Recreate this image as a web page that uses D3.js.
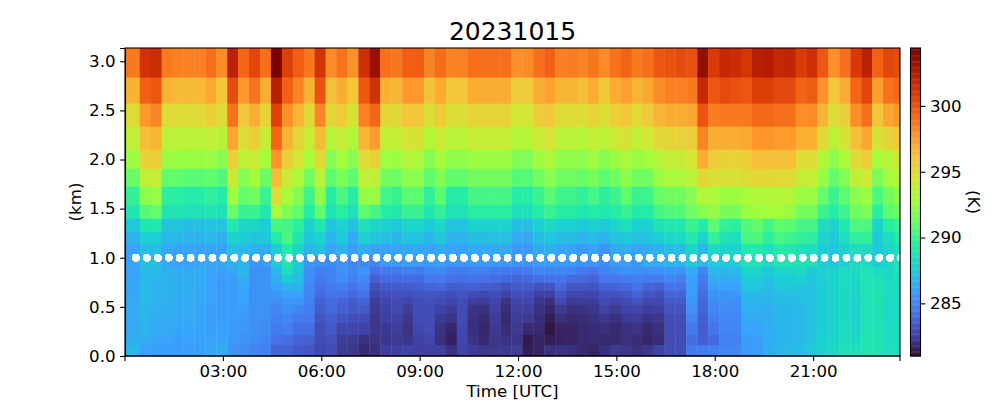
<!DOCTYPE html>
<html>
<head>
<meta charset="utf-8">
<script src="https://cdn.jsdelivr.net/npm/d3@7"></script>
<style>
html,body{margin:0;padding:0;background:#fff}
svg{display:block}
text{font-family:"DejaVu Sans";fill:#000}
</style>
</head>
<body>
<svg id="chart" width="1000" height="400"></svg>
<script>
const titleText = "20231015";
const xLabel = "Time [UTC]";
const yLabel = "(km)";
const cbLabel = "(K)";
const markerHeightKm = 1.0;
const tempRange = [281, 304.4];
const xTickHours = [3, 6, 9, 12, 15, 18, 21];
const yTicks = [0, 0.5, 1, 1.5, 2, 2.5, 3];
const cbTicks = [285, 290, 295, 300];
const turboStops = ["#30123b","#4145ab","#4675ed","#39a2fc","#1bcfd4","#24eca6","#61fc6c","#a4fc3b","#d1e834","#f3c63a","#fe9b2d","#f36315","#d93806","#b11901","#7a0402"];
const firstEdgeMin = 27.5, stepMin = 20, lastMin = 1418;
const heightEdges = [3.135,2.834,2.569,2.334,2.1,1.906,1.723,1.539,1.397,1.264,1.142,1.019,0.907,0.826,0.744,0.663,0.591,0.52,0.428,0.336,0.214,0.112,0];

const row1 = [298.7,301.4,301.7,298.7,298.5,298.5,298.5,299,298.2,302.3,299.3,300.5,299,304.4,300.8,299.6,298.8,301.3,298.2,298.9,298,301.5,303.4,299,298.8,299.6,299.6,298.4,299.1,298.4,298.5,299,299,299,299,298,298.2,299,299.5,298.5,298.6,298.4,298.8,298.2,298.9,299.4,298.7,299,299.9,300,300.3,300.1,303.6,301,301.9,301.7,301.2,302.4,302.6,301.9,302.1,300.9,301.5,299.8,298,299,301,302.3,299.5,300.5,300.2];
const row2 = [296.8,299.5,299.9,296.8,296.5,296.5,296.5,297.2,296,300.3,297.8,298.9,297,302.4,299.5,298.4,296.8,300,296.3,297,296,299.8,301.4,296.9,296.7,297.8,297.8,296.2,297.1,296,296.1,297,297,297,297,295.8,295.8,297,297.5,296.7,296.7,296.3,297,295.9,297,297.6,296.7,297.2,298.2,298.5,298.5,298.7,301.9,299.9,300.3,300.1,299.9,300.8,300.8,300.4,300.4,299.4,299.7,298,296,297,299.3,300.5,297.6,298.9,299.2];
const row3 = [295,297.8,298.3,295,295,295,295,295.6,295,298.9,296,297,295.4,300.7,298,296.8,295.2,298.3,295.3,295.8,294.6,298.5,299.3,295.3,295.2,296.1,296,294.8,295.8,294.8,294.8,295.4,295.4,295.4,295.4,294.4,294.4,295.7,296,295,295,294.9,295.4,294.8,295.6,296,295.1,295.8,296.7,297,297,297.3,300,298.6,298.7,298.7,298.7,299.2,299.2,299,299,298.1,298.2,296.7,294.9,295.6,298.1,299,296.1,297.3,297.8];
const row4 = [293.7,296.3,296.7,293.6,293.5,293.5,293.5,293.8,293.4,297.3,295,295.6,294,299.3,296.8,295.3,294.1,296.4,293.4,294,293.1,296.7,297.7,293.9,293.8,294.6,294.6,293.3,294.2,293.4,293.4,294,294,294,294,293.3,293.3,294.1,294.6,293.5,293.5,293.3,293.8,293.5,294.2,294.7,293.7,294.3,295.2,295.4,295.4,295.7,298.4,297,297,297,297.2,297.9,297.9,297.7,297.7,296.9,296.9,295.2,293.5,294.6,296.3,297.3,294.6,295.4,296];
const row5 = [292.5,295.4,295.7,292.5,292.4,292.4,292.4,292.5,292,295.6,293.6,294.1,292.8,297.9,295.6,294.5,292.8,295.2,292,292.7,292,295,295.5,292.6,292.5,293.1,293.1,291.9,292.9,292.2,292.2,292.5,292.5,292.5,292.5,291.8,291.8,292.6,293,292.2,292.2,292.2,292.6,291.9,292.5,293,292.4,292.7,293.3,293.9,293.9,294.5,297,295.8,295.5,295.5,295.7,296.3,296.3,296.3,296.3,295,295,293.2,292.1,292.8,295,295.7,292.8,293.5,294.2];
const row6 = [291.2,293.6,294,291,291,290.8,290.8,291,290.6,294.2,291.9,292.7,291.3,296.4,294.2,293,291.4,293.5,290.9,291.7,290.9,293.7,293.8,291.5,291.3,292.1,292.1,291,291.8,291,291,291.5,291.5,291.5,291.5,290.7,290.7,291.4,292,291.4,291.4,291.2,291.6,290.9,291.5,292.1,291.4,291.5,292.4,293,293,293.5,295.3,294.8,294.7,294.7,295,295.2,295.2,295.1,295.1,294,294,292.4,291.1,291.9,293.7,294.3,291.7,292.7,293.2];
const row7 = [289.8,292.1,292.4,289.6,289.5,289.3,289.3,289.7,289.3,292.6,291.1,291.5,290,295,292.8,291.9,290.1,292.2,289.4,290.5,289.4,292.3,292.4,290.2,289.9,290.9,290.9,289.7,290.9,289.4,289.4,290.3,290.3,290.3,290.3,289.4,289.4,290,290.8,290.1,290.1,289.7,290.3,289.6,290.1,291,290,290.1,291.2,291.4,291.4,292,293.3,293,292.5,292.5,292.9,293.1,293.2,293.2,293.2,292.5,292.4,291.1,290,290.9,292.1,292.5,290.5,291.5,292];
const row8 = [289,290.7,291.1,288.9,288.9,288.7,288.7,288.9,288.6,291.2,289.9,290,289.1,292.8,291.7,291,289.3,291,288.8,289.5,288.6,290.9,290.4,289.4,289.1,289.9,289.9,289,289.8,288.7,288.7,289.5,289.5,289.5,289.5,288.6,288.6,289.3,289.9,289.4,289.4,289,289.3,289.1,289.4,289.9,289.2,289.3,290.2,290.6,290.6,291.3,291.9,292.3,291.6,291.6,292.4,292.6,292.7,292.7,292.4,291.5,291.5,290,289.4,290.1,291.4,291.7,289.6,290.9,291.4];
const row9 = [287.5,289,289.1,287.3,287.3,287.1,287.1,287.3,287.3,289.1,288.2,288.1,287.6,290.4,290.2,289.6,287.9,289,287.3,287.9,287.2,288.6,288.1,287.8,287.5,288.1,288.1,287.6,288.2,287.3,287.3,287.9,287.9,287.9,287.9,287.1,287.1,287.8,288.3,287.8,287.8,287.5,287.8,287.5,288.1,288.6,287.8,287.9,288.8,289.1,289.1,290,289.3,290.8,289.8,289.6,290.7,291,290.2,291,290.8,290.4,290.3,288.4,288,289.1,290.5,290.5,287.9,289.5,290];
const row10 = [286.7,287.8,287.7,286.9,286.9,286.7,286.7,286.9,286.5,287.9,287.6,287.3,287.5,289.3,290.4,288.9,287.4,287.9,286.7,287.5,286.3,287.8,287.3,287.1,286.8,287.3,287.3,286.8,287.5,286.7,286.7,287.1,287.1,287.1,287.1,286.3,286.3,287.1,287.4,287,287,286.7,287,286.6,287.3,287.5,287.2,287.3,287.7,288.2,288.2,289.2,287.9,289.8,288.7,288.5,290.4,290.5,289.6,290.4,290.1,289.7,289.6,287.9,287.6,288.5,289.7,289.7,287.6,288.5,289.3];
const row11 = [286,287,287,286.3,286.1,286.1,286.1,286.1,286.1,287.1,286.8,286.6,286.5,287.6,289.3,288,286.8,287.2,286,286.7,285.8,286.5,286,286,286,286.3,286.3,286,286.5,286,286,286.3,286.3,286.3,286.3,285.7,285.7,286.3,286.6,286.1,286.1,285.7,286,285.4,286.3,286.5,286.1,286.5,286.6,287,287,287.9,286.8,288.3,287.9,287.9,289.1,289.1,288.6,289.3,289.1,288.6,288.4,287.6,287.3,287.9,288.4,288.4,287.5,288.1,288.6];
const row12 = [286,287.2,287.2,286.2,286.1,286.1,286.1,286.1,286.1,286.6,286.7,285.6,285.8,287.5,289.1,287.5,285.6,285.4,285.2,285.5,285,285,285,285.7,285.7,285.8,285.8,285.7,285.9,285.6,285.6,285.7,285.7,285.7,285.7,285.5,285.5,285.7,285.8,285.7,285.7,285.5,285.5,285.2,285.8,285.9,285.7,286.5,286.3,286.7,286.7,287.5,286.7,287.6,287.4,287.6,288.8,288.8,288.1,288.9,288.9,288.8,288.6,287.5,287.4,287.6,288.3,288.3,287.6,288.1,288.8];
const upperRows = [row1,row2,row3,row4,row5,row6,row7,row8,row9,row10,row11,row12];

// ten lower levels for each time column, top to bottom
const lowerColumns = [
[286,286.1,286.2,286.2,286.3,286.3,286.3,286.3,286.5,286.8],
[286.9,286.9,286.9,286.9,286.9,286.8,286.8,286.7,286.5,286],
[286.9,286.8,286.7,286.7,286.6,286.5,286.4,286.3,286.1,285.9],
[286.5,286.6,286.6,286.6,286.6,286.5,286.4,286.3,286.1,285.9],
[286.4,286.5,286.5,286.5,286.4,286.4,286.3,286.2,285.9,285.9],
[286.3,286.4,286.4,286.4,286.4,286.3,286.3,286.2,286,285.9],
[286.4,286.4,286.4,286.3,286.3,286.2,286.2,286.1,286,285.9],
[286.1,286,286,286,286,285.9,285.9,285.9,286,286.2],
[285.9,285.8,285.7,285.8,285.8,285.9,285.9,286,286.1,286.4],
[286.2,285.9,285.8,285.8,285.8,285.8,285.8,285.8,285.7,285.5],
[286.8,286.5,286.2,286,286,285.8,285.7,285.6,285.4,285.2],
[285.3,285.3,285.4,285.4,285.4,285.4,285.4,285.4,285.2,284.9],
[285.4,285.5,285.5,285.5,285.5,285.4,285.3,285.2,285,284.8],
[286.8,286.5,286.1,285.6,285.3,285,284.8,284.5,284.2,283.7],
[288.5,287.6,286.7,286,285.6,285.3,285,284.7,284.1,283.7],
[287.4,287,286.6,286.1,285.6,285,284.5,284.1,283.7,283.4],
[285.3,285.3,285.1,285,284.8,284.7,284.4,284.1,283.6,283.3],
[284.8,284.5,284.2,284,283.7,283.5,283.2,283,282.9,282.8],
[284.9,284.8,284.6,284.3,284,283.9,283.6,283.4,283.1,283],
[285.3,285.2,284.8,284.2,283.8,283.6,283.2,282.7,282.4,282.3],
[285,284.7,284.3,283.9,283.5,283.3,283,282.7,282.3,282.2],
[285.5,285.1,284.7,284.2,283.8,283.4,282.9,282.6,282,281.8],
[284.2,283.6,283,282.7,282.4,282.3,282.2,282.2,282.1,282],
[284.5,284,283.4,283,282.7,282.6,282.5,282.3,282.2,282.4],
[284.5,284,283.5,283.1,282.9,282.8,282.6,282.4,282.3,282.5],
[284.7,284.1,283.5,283.1,282.7,282.4,282.2,282.1,282.2,282.6],
[284.6,284,283.6,283.2,283,282.9,282.9,282.8,282.6,282.5],
[285,284.5,283.8,283.3,283.1,283,283,282.9,282.7,282.5],
[285.2,284.5,283.9,283.2,282.9,282.6,282.3,282.1,282,282.5],
[284.7,284.2,283.5,283,282.7,282.4,282.1,281.7,281.5,282],
[284.6,284.1,283.6,283.2,283,282.9,282.9,282.8,282.7,282.6],
[284.8,284.2,283.6,282.9,282.5,282.1,282,282,282.1,282.4],
[284.8,284.2,283.5,282.8,282.4,282,281.8,281.7,281.8,282.2],
[284.6,284.1,283.4,283,282.7,282.5,282.4,282.3,282.2,282.3],
[284.6,283.9,283.1,282.6,282.1,281.9,281.8,281.9,282.1,282.3],
[284.4,283.8,283.4,283,282.7,282.5,282.4,282.3,282.2,282.4],
[284.6,283.9,283.4,283,282.7,282.5,282.3,281.8,281.3,281.4],
[285,284.1,283.1,282.5,282.2,282,281.9,281.8,281.6,281.6],
[285,284.2,283.2,282.5,282,281.7,281.4,281.1,281.4,282],
[285,284.3,283.9,283.3,282.9,282.3,282,281.6,281.6,282.1],
[284.9,284,283.3,282.7,282.3,282,281.8,281.6,281.6,282],
[284.5,284,283.3,282.7,282.4,282.1,281.9,281.8,281.8,281.8],
[284.3,283.7,283.2,282.7,282.4,282.2,282,281.9,281.9,281.6],
[284.9,284.4,283.7,283.2,282.9,282.6,282.2,282,281.8,282],
[285.2,284.4,283.7,283.1,282.7,282.3,282,281.8,281.8,282.3],
[285.4,284.6,283.9,283.3,282.9,282.6,282.3,282,282,282.2],
[285.3,284.8,284.2,283.7,283.2,282.7,282.4,282.1,281.9,282],
[285.3,284.6,283.8,283.2,282.8,282.4,282.1,281.8,281.7,282.2],
[285.4,284.6,283.6,283.1,282.8,282.5,282.2,282,281.9,282.6],
[285.5,285,284.3,283.8,283.4,283.2,283,282.9,282.9,283],
[285.5,284.8,284.2,283.8,283.4,283.2,283,282.9,282.9,283],
[286.4,286,285.9,285.8,285.6,285.3,285,284.5,284.1,284.5],
[285,284.6,284.3,284.1,283.9,283.8,283.6,283.5,283.6,284.6],
[286.8,286.3,285.8,285.5,285.2,285,284.7,284.3,283.9,284.7],
[286.8,286.3,285.9,285.5,285.3,285.2,285.1,285,284.8,285],
[286.9,286.4,286,285.6,285.3,285.2,285.1,285,284.8,285],
[288,287.6,287.3,286.9,286.7,286.5,286.3,286,285.8,285.7],
[288,287.6,287.3,286.9,286.7,286.5,286.3,286,285.9,285.8],
[287.5,287.2,286.9,286.8,286.6,286.5,286.5,286.4,286.4,286.4],
[288.1,287.6,287.5,287.1,286.9,286.8,286.8,286.7,286.7,286.8],
[288.1,287.6,287.4,287.1,286.9,286.8,286.8,286.8,286.8,286.9],
[288.4,287.8,287.4,287.1,287,286.9,286.9,286.9,286.9,287],
[287.5,287.3,287.2,287.2,287.2,287.2,287.2,287.2,287.3,287.5],
[287.9,287.8,287.7,287.7,287.7,287.7,287.7,287.7,287.8,287.9],
[288,288,288,288,288,288,288,288,288.1,288.3],
[288.3,288.3,288.2,288.2,288.2,288.2,288.2,288.3,288.4,288.7],
[288.3,288.2,288.2,288.1,288.1,288.1,288.1,288.1,288.2,288.6],
[288.8,288.8,288.8,288.8,288.7,288.7,288.7,288.8,288.9,288.9],
[288.3,288.7,288.8,288.8,288.8,288.8,288.8,288.8,288.9,288.9],
[288.2,288.3,288.3,288.3,288.2,288.2,288.2,288.3,288.4,288.5],
[288.7,288.6,288.5,288.4,288.4,288.4,288.4,288.5,288.5,288.6]
];

const margin = {left:125, right:900, top:48, bottom:356};
const cb = {left:910.5, right:920.5};
const day = m => new Date(Date.UTC(2023,9,15,0,m));
const x = d3.scaleUtc().domain([day(0), day(lastMin)]).range([margin.left, margin.right]);
const y = d3.scaleLinear().domain([0, heightEdges[0]]).range([margin.bottom, margin.top]);
const color = d3.scaleSequential(d3.piecewise(d3.interpolateRgb, turboStops)).domain(tempRange);
const cbY = d3.scaleLinear().domain(tempRange).range([margin.bottom, margin.top]);

const svg = d3.select("#chart");
const defs = svg.append("defs");
defs.append("clipPath").attr("id","plotClip").append("rect")
  .attr("x",margin.left).attr("y",margin.top)
  .attr("width",margin.right-margin.left).attr("height",margin.bottom-margin.top);

const nCols = upperRows[0].length;
const colStart = i => i === 0 ? 0 : firstEdgeMin + (i-1)*stepMin;
const colEnd = i => i === nCols-1 ? lastMin : firstEdgeMin + i*stepMin;

const matrix = upperRows.concat(d3.range(lowerColumns[0].length).map(k => lowerColumns.map(c => c[k])));
const cells = [];
matrix.forEach((vals, r) => vals.forEach((v, c) => cells.push({r, c, v})));

const plot = svg.append("g").attr("clip-path","url(#plotClip)");
plot.selectAll("rect.cell").data(cells).join("rect").attr("class","cell")
  .attr("x", d => x(day(colStart(d.c))))
  .attr("width", d => x(day(colEnd(d.c))) - x(day(colStart(d.c))) + 0.4)
  .attr("y", d => y(heightEdges[d.r]))
  .attr("height", d => y(heightEdges[d.r+1]) - y(heightEdges[d.r]) + 0.4)
  .attr("fill", d => color(d.v));

const markerMinutes = d3.range(1, 72).map(i => i*stepMin);
plot.selectAll("circle.marker").data(markerMinutes).join("circle").attr("class","marker")
  .attr("cx", m => x(day(m)))
  .attr("cy", y(markerHeightKm))
  .attr("r", 4)
  .attr("shape-rendering","crispEdges")
  .attr("fill", "#fff");

function styleAxis(g){
  g.selectAll("path").attr("stroke","#000").attr("stroke-width",1.1);
  g.selectAll("line").attr("stroke","#000").attr("stroke-width",1.1);
  g.selectAll("text").style("font-family",'"DejaVu Sans"').style("font-size","16.67px").attr("fill","#000");
}
const xAxis = d3.axisBottom(x).offset(0).tickValues(xTickHours.map(h => day(h*60))).tickFormat(d3.utcFormat("%H:%M")).tickSizeOuter(0).tickSize(4.9).tickPadding(4.5);
svg.append("g").attr("transform",`translate(0,${margin.bottom})`).call(xAxis).call(styleAxis);
const yAxis = d3.axisLeft(y).tickValues(yTicks).tickFormat(d3.format(".1f")).tickSizeOuter(0).tickSize(4.9).tickPadding(4.5);
svg.append("g").attr("transform",`translate(${margin.left},0)`).call(yAxis).call(styleAxis);

svg.append("rect").attr("x",margin.left).attr("y",margin.top)
  .attr("width",margin.right-margin.left).attr("height",margin.bottom-margin.top)
  .attr("fill","none").attr("stroke","#000").attr("stroke-width",1.1);

// colour bar
const cbSteps = d3.range(0, 256).map(i => tempRange[0] + (tempRange[1]-tempRange[0])*i/255);
const cbStepH = (margin.bottom-margin.top)/256;
svg.append("g").selectAll("rect").data(cbSteps).join("rect")
  .attr("x",cb.left).attr("width",cb.right-cb.left)
  .attr("y",(d,i) => margin.bottom-(i+1)*cbStepH).attr("height",cbStepH+0.4)
  .attr("fill",d => color(d));
svg.append("rect").attr("x",cb.left).attr("y",margin.top).attr("width",cb.right-cb.left)
  .attr("height",margin.bottom-margin.top).attr("fill","none").attr("stroke","#000").attr("stroke-width",1.1);
const cbAxis = d3.axisRight(cbY).tickValues(cbTicks).tickFormat(d3.format("d")).tickSizeOuter(0).tickSize(4.9).tickPadding(4.5);
const cbG = svg.append("g").attr("transform",`translate(${cb.right},0)`).call(cbAxis).call(styleAxis);
cbG.select("path.domain").remove();

svg.append("text").attr("x",512.5).attr("y",40).attr("text-anchor","middle").style("font-size","25px").text(titleText);
svg.append("text").attr("x",512.5).attr("y",397).attr("text-anchor","middle").style("font-size","16.67px").text(xLabel);
svg.append("text").attr("transform","translate(81,202) rotate(-90)").attr("text-anchor","middle").style("font-size","16.67px").text(yLabel);
svg.append("text").attr("transform","translate(968,202) rotate(90)").attr("text-anchor","middle").style("font-size","16.67px").text(cbLabel);
</script>
</body>
</html>
